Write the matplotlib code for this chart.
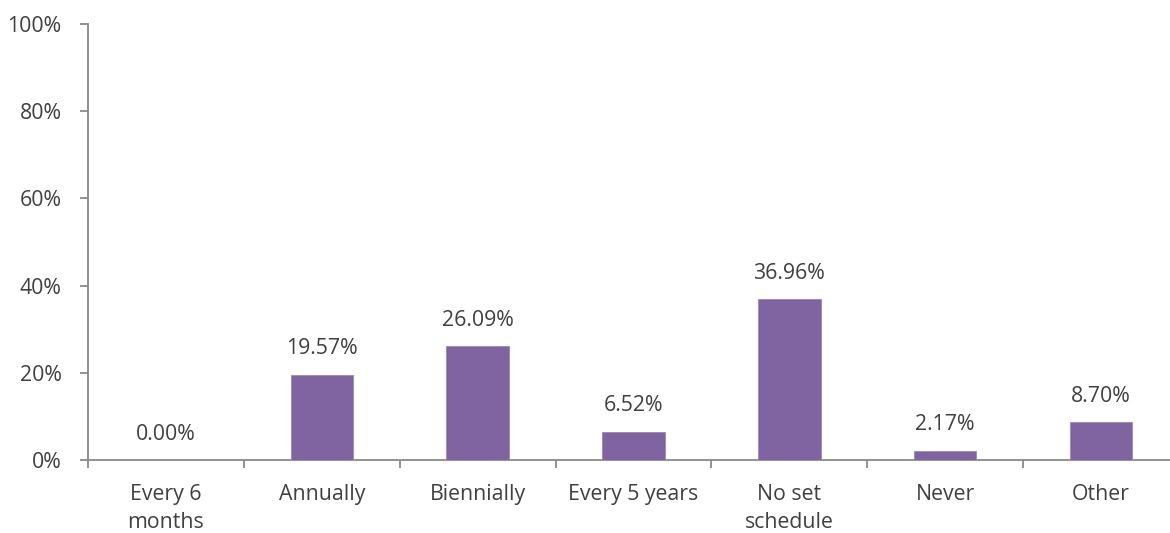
import matplotlib
matplotlib.use("Agg")
import matplotlib.pyplot as plt
from matplotlib.ticker import FixedLocator, PercentFormatter

categories = ["Every 6\nmonths", "Annually", "Biennially", "Every 5 years",
              "No set\nschedule", "Never", "Other"]
values = [0.00, 19.57, 26.09, 6.52, 36.96, 2.17, 8.70]
yticks = [0, 20, 40, 60, 80, 100]

plt.rcParams['font.family'] = ['Open Sans', 'DejaVu Sans']
W, H = 1170, 533
fig = plt.figure(figsize=(W/100, H/100), dpi=100)
left, right = 88, 1179
bottom, top = 460, 24
ax = fig.add_axes([left/W, 1-bottom/H, (right-left)/W, (bottom-top)/H])

text_c = "#404040"
axis_c = "#898989"
bar_c = "#8064A2"
fs = 15.3

x = list(range(len(categories)))
bars = ax.bar(x, values, width=0.4, color=bar_c, edgecolor="#9b86b8", linewidth=0.6, zorder=3)
for xi, v in zip(x, values):
    ax.annotate(f"{v:.2f}%", (xi, v), xytext=(0, 11), textcoords="offset points",
                ha="center", va="bottom", fontsize=fs, color=text_c)

ax.set_xlim(-0.5, len(categories)-0.5)
ax.set_ylim(0, 100)
ax.set_yticks(yticks)
ax.yaxis.set_major_formatter(PercentFormatter(decimals=0))
ax.set_xticks(x)
ax.set_xticklabels(categories, fontsize=fs, color=text_c, linespacing=1.45)
ax.xaxis.set_minor_locator(FixedLocator([i+0.5 for i in range(-1, len(categories))]))
ax.tick_params(axis='x', which='major', length=0, pad=17)
ax.tick_params(axis='x', which='minor', length=6, width=1.3, color=axis_c, direction='out')
ax.tick_params(axis='y', length=6, width=1.3, color=axis_c, labelsize=fs, labelcolor=text_c, pad=13)
for s in ["top", "right"]:
    ax.spines[s].set_visible(False)
for s in ["left", "bottom"]:
    ax.spines[s].set_color(axis_c)
    ax.spines[s].set_linewidth(1.3)
ax.set_facecolor("white")

fig.savefig("out.png", dpi=100, facecolor="white")
